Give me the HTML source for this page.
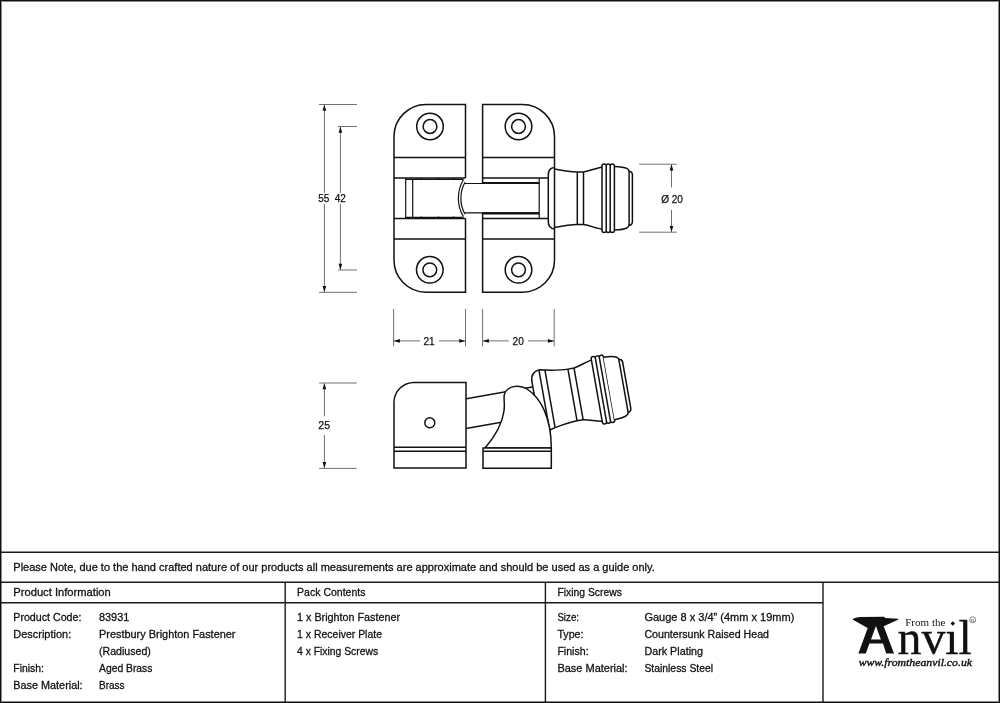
<!DOCTYPE html>
<html><head><meta charset="utf-8">
<style>
html,body{margin:0;padding:0;background:#fff;}
body{width:1000px;height:703px;overflow:hidden;position:relative;font-family:"Liberation Sans",sans-serif;color:#111;}
#frame{position:absolute;left:0;top:0;width:1000px;height:703px;box-sizing:border-box;border:1px solid #111;box-shadow:inset 0 0 0 1px #888;}
svg{position:absolute;left:0;top:0;will-change:transform;}
.t{position:absolute;white-space:nowrap;font-size:12px;line-height:14px;}
</style></head><body>
<div id="frame"></div>
<svg width="1000" height="703" viewBox="0 0 1000 703">
<defs>
<g id="knob">
    <path d="M554.5,169 C562,170.5 570,172 577.3,172 H583.5 C590,171 596,168 602,167.2 M554.5,227.4 C562,225.9 570,224.4 577.3,224.4 H583.5 C590,225.4 596,228.4 602,229.2"/>
  <path d="M577.3,172 V224.4 M583.5,172 V224.4"/>
  <path d="M602,230.4 V166 Q602,164 604.1,164 Q606.2,164 606.2,166 Q606.2,164 608.2,164 Q610.2,164 610.2,166 Q610.2,164 612.3,164 Q614.4,164 614.4,166 V230.4 Q614.4,232.4 612.3,232.4 Q610.2,232.4 610.2,230.4 Q610.2,232.4 608.2,232.4 Q606.2,232.4 606.2,230.4 Q606.2,232.4 604.1,232.4 Q602,232.4 602,230.4 M606.2,166 V230.4 M610.2,166 V230.4"/>
  <path d="M614.4,166.4 C620,166.6 624.5,167.2 626.8,168.4 Q628.8,169.5 629.1,171.2 Q632.4,171.5 632.4,175 V221.4 Q632.4,224.9 629.1,225.2 Q628.8,226.9 626.8,228 C624.5,229.2 620,229.8 614.4,230"/>
  <path d="M629.1,171.2 V225.2"/>
</g>
</defs>

<!-- ===== TOP VIEW ===== -->
<g fill="none" stroke="#111" stroke-width="1.5">
  <!-- left plate -->
  <path d="M465.5,178 V104.5 H426 A32,32 0 0 0 394,136.5 V260 A32,32 0 0 0 426,292.2 H465.5 V218.6"/>
  <path d="M394,157.5 H465.5 M394,238.9 H465.5 M394,178 H465.5 M394,218.6 H465.5"/>
  <path d="M405.7,178 V218.6 M412.7,179.4 V217.3" stroke-width="1.2"/>
  <path d="M405.7,179.4 H463.5 M405.7,217.3 H463.5" stroke-width="1.2"/>
  <circle cx="430" cy="126.5" r="13.3"/><circle cx="430" cy="126.5" r="6.9"/>
  <circle cx="429.8" cy="269.8" r="13.3"/><circle cx="429.8" cy="269.8" r="6.9"/>
  <!-- right plate -->
  <path d="M482.6,183.5 V104.5 H522.5 A32,32 0 0 1 554.5,136.5 V260 A32,32 0 0 1 522.5,292.2 H482.6 V212.8"/>
  <path d="M482.6,157.5 H554.5 M482.6,238.9 H554.5 M482.6,178 H548.5 M482.6,218.6 H548.5"/>
  <path d="M539.2,178 V218.6" stroke-width="1.2"/>
  <path d="M482.6,183 H539.2 M482.6,213.4 H539.2" stroke-width="2.2"/>
  <circle cx="518.5" cy="126.5" r="13.3"/><circle cx="518.5" cy="126.5" r="6.9"/>
  <circle cx="518.5" cy="269.8" r="13.3"/><circle cx="518.5" cy="269.8" r="6.9"/>
  <!-- rod -->
  <path d="M465,183.5 H539.2 M465,212.8 H539.2" stroke-width="1.2"/>
  <path d="M554.5,167.5 Q548.3,168 548.3,175 V221.4 Q548.3,228.4 554.5,228.9"/>
  <path d="M463.4,179.8 A36,36 0 0 0 463.4,216.6 M465,182.2 A33,33 0 0 0 465,214.2" stroke-width="1.2"/>
  <g fill="#111" stroke="none"><circle cx="421.2" cy="179" r="1"/><circle cx="438.4" cy="179" r="1"/><circle cx="453.6" cy="179" r="1"/><circle cx="421.2" cy="217.6" r="1"/><circle cx="438.4" cy="217.6" r="1"/><circle cx="453.6" cy="217.6" r="1"/></g>
  <use href="#knob"/>
</g>
<!-- dims -->
<g fill="none" stroke="#707070" stroke-width="1">
  <path d="M319,104.5 H357 M319,292.3 H357 M338,126.5 H357 M338,270 H357"/>
  <path d="M324.4,105 V193 M324.4,204 V292 M340.4,127 V193 M340.4,204 V269.5"/>
  <path d="M639.2,164.2 H676.8 M639.2,232.2 H676.8 M671.5,164.5 V187.4 M671.5,209.8 V232"/>
  <path d="M393.6,309 V346.4 M465.5,309 V346.4 M482.6,309 V346.4 M554.2,309 V346.4"/>
  <path d="M394,340.9 H420 M439,340.9 H465 M483,340.9 H508.8 M528,340.9 H554"/>
  <path d="M319.1,383 H356.7 M319.1,468.4 H356.7 M324.4,383.5 V416.2 M324.4,435 V468"/>
</g>
<g fill="#111" stroke="none">
  <path d="M324.4,104.6 l-1.8,6.2 h3.6 z M324.4,292.2 l-1.8,-6.2 h3.6 z"/>
  <path d="M340.4,126.6 l-1.8,6.2 h3.6 z M340.4,269.9 l-1.8,-6.2 h3.6 z"/>
  <path d="M671.5,164.3 l-1.8,6.2 h3.6 z M671.5,232.1 l-1.8,-6.2 h3.6 z"/>
  <path d="M324.4,383.1 l-1.8,6.2 h3.6 z M324.4,468.3 l-1.8,-6.2 h3.6 z"/>
  <path d="M393.7,340.9 l6.2,-1.8 v3.6 z M465.4,340.9 l-6.2,-1.8 v3.6 z"/>
  <path d="M482.7,340.9 l6.2,-1.8 v3.6 z M554.1,340.9 l-6.2,-1.8 v3.6 z"/>
</g>
<g font-family="Liberation Sans, sans-serif" font-size="11" fill="#111" stroke="#111" stroke-width="0.25" text-anchor="middle">
  <text x="323.85" y="201.7" textLength="11.2" lengthAdjust="spacingAndGlyphs">55</text>
  <text x="340.25" y="201.7" textLength="11.2" lengthAdjust="spacingAndGlyphs">42</text>
  <text x="672.05" y="202.8" textLength="21.8" lengthAdjust="spacingAndGlyphs">Ø 20</text>
  <text x="429.1" y="344.9" textLength="11.2" lengthAdjust="spacingAndGlyphs">21</text>
  <text x="518.2" y="344.9" textLength="11.2" lengthAdjust="spacingAndGlyphs">20</text>
  <text x="324.25" y="429.4" textLength="11.8" lengthAdjust="spacingAndGlyphs">25</text>
</g>
<!-- ===== SIDE VIEW ===== -->
<g fill="#fff" stroke="#111" stroke-width="1.5">
  <g transform="translate(603.2,389.5) rotate(-10) translate(-608.5,-198.2)">
    <path d="M455,183.5 H545 M455,212.8 H545" fill="none"/>
    <use href="#knob"/>
    <path d="M549.5,167.6 Q539.7,168.2 539.7,178.5 V218 Q539.7,228.2 549.5,228.8"/>
    <path d="M548.6,168 V228.5 M554.5,169 V227.4 M549,167.6 L554.5,169 M549,228.8 L554.5,227.4" fill="none"/>
  </g>
  <path d="M466,382.4 H414 A20,20 0 0 0 394,402.4 V468.1 H466 Z"/>
  <path d="M394,447.2 H466 M394,451.2 H466" fill="none"/>
  <circle cx="429.8" cy="422.7" r="5"/>
  <path d="M485,448 C495,436.5 502,425 504,411 C505.5,401 501.5,394 507.5,389.5 C512,385.5 521,385 527,389 C541,398 551.3,418 551.3,448 Z"/>
  <path d="M483,448 H551.3 V468.2 H483 Z"/>
  <path d="M483,451.2 H551.3" fill="none"/>
</g>
<!-- ===== TABLE ===== -->
<g fill="none" stroke="#1a1a1a" stroke-width="1.4">
  <path d="M1,552.2 H999 M1,582.2 H999 M1,602.7 H823"/>
  <path d="M285.2,582.2 V702 M545.4,582.2 V702 M823,582.2 V702"/>
</g>
<g font-family="Liberation Sans, sans-serif" font-size="11.7" fill="#111" stroke="#111" stroke-width="0.3">
  <text x="13.3" y="571.3" textLength="641.5" lengthAdjust="spacingAndGlyphs">Please Note, due to the hand crafted nature of our products all measurements are approximate and should be used as a guide only.</text>
  <text x="13.3" y="595.8" textLength="97.5" lengthAdjust="spacingAndGlyphs">Product Information</text>
  <text x="297.1" y="595.8" textLength="68.4" lengthAdjust="spacingAndGlyphs">Pack Contents</text>
  <text x="557.4" y="595.8" textLength="64.5" lengthAdjust="spacingAndGlyphs">Fixing Screws</text>

  <text x="13.3" y="621.4" textLength="68.1" lengthAdjust="spacingAndGlyphs">Product Code:</text>
  <text x="99" y="621.4" textLength="30.3" lengthAdjust="spacingAndGlyphs">83931</text>
  <text x="13.3" y="638.3" textLength="57.9" lengthAdjust="spacingAndGlyphs">Description:</text>
  <text x="99" y="638.3" textLength="136.5" lengthAdjust="spacingAndGlyphs">Prestbury Brighton Fastener</text>
  <text x="99" y="655.1" textLength="51.9" lengthAdjust="spacingAndGlyphs">(Radiused)</text>
  <text x="13.3" y="671.9" textLength="30.6" lengthAdjust="spacingAndGlyphs">Finish:</text>
  <text x="99" y="671.9" textLength="53.4" lengthAdjust="spacingAndGlyphs">Aged Brass</text>
  <text x="13.3" y="688.8" textLength="69.3" lengthAdjust="spacingAndGlyphs">Base Material:</text>
  <text x="99" y="688.8" textLength="25.5" lengthAdjust="spacingAndGlyphs">Brass</text>

  <text x="297.1" y="621.4" textLength="102.9" lengthAdjust="spacingAndGlyphs">1 x Brighton Fastener</text>
  <text x="297.1" y="638.3" textLength="84.9" lengthAdjust="spacingAndGlyphs">1 x Receiver Plate</text>
  <text x="297.1" y="655.1" textLength="81" lengthAdjust="spacingAndGlyphs">4 x Fixing Screws</text>

  <text x="557.4" y="621.4" textLength="21.6" lengthAdjust="spacingAndGlyphs">Size:</text>
  <text x="644.4" y="621.4" textLength="150" lengthAdjust="spacingAndGlyphs">Gauge 8 x 3/4” (4mm x 19mm)</text>
  <text x="557.4" y="638.3" textLength="26.1" lengthAdjust="spacingAndGlyphs">Type:</text>
  <text x="644.4" y="638.3" textLength="124.6" lengthAdjust="spacingAndGlyphs">Countersunk Raised Head</text>
  <text x="557.4" y="655.1" textLength="31.2" lengthAdjust="spacingAndGlyphs">Finish:</text>
  <text x="644.4" y="655.1" textLength="58.6" lengthAdjust="spacingAndGlyphs">Dark Plating</text>
  <text x="557.4" y="671.9" textLength="70.2" lengthAdjust="spacingAndGlyphs">Base Material:</text>
  <text x="644.4" y="671.9" textLength="68.7" lengthAdjust="spacingAndGlyphs">Stainless Steel</text>
</g>
<!-- ===== LOGO ===== -->
<g fill="#111" stroke="none">
  <path fill-rule="evenodd" d="M852.8,619 C856,617.6 858,617.1 860,617 L884,616.8 L885.3,618 L898.3,618.7 L898,619.8 L883.7,626.3 L894,653.6 L886.2,653.6 L883,643.4 L869.4,643.4 L865.8,653.6 L858.4,653.6 L867.7,628.1 C862,625 857,622 852.8,619.8 Z M875.9,626 L871,639.5 L880.9,639.5 Z"/>
  <path d="M952.8,621.2 L955.1,623.5 L952.8,625.8 L950.5,623.5 Z"/>
</g>
<g font-family="Liberation Serif, serif" fill="#111">
  <text x="905.2" y="625.8" font-size="11.3" textLength="40.2" lengthAdjust="spacingAndGlyphs">From the</text>
  <text x="897.5" y="653.6" font-size="48" textLength="74.4" lengthAdjust="spacingAndGlyphs" stroke="#111" stroke-width="0.35">nvıl</text>
  <text x="858.7" y="665.8" font-size="11" font-style="italic" textLength="113.3" lengthAdjust="spacingAndGlyphs" stroke="#111" stroke-width="0.4">www.fromtheanvil.co.uk</text>
</g>
<g fill="none" stroke="#333" stroke-width="0.6"><circle cx="972.7" cy="619.8" r="3"/></g>
<text x="972.7" y="621.6" font-family="Liberation Serif, serif" font-size="5" text-anchor="middle" fill="#333">R</text>
</svg>
</body></html>
